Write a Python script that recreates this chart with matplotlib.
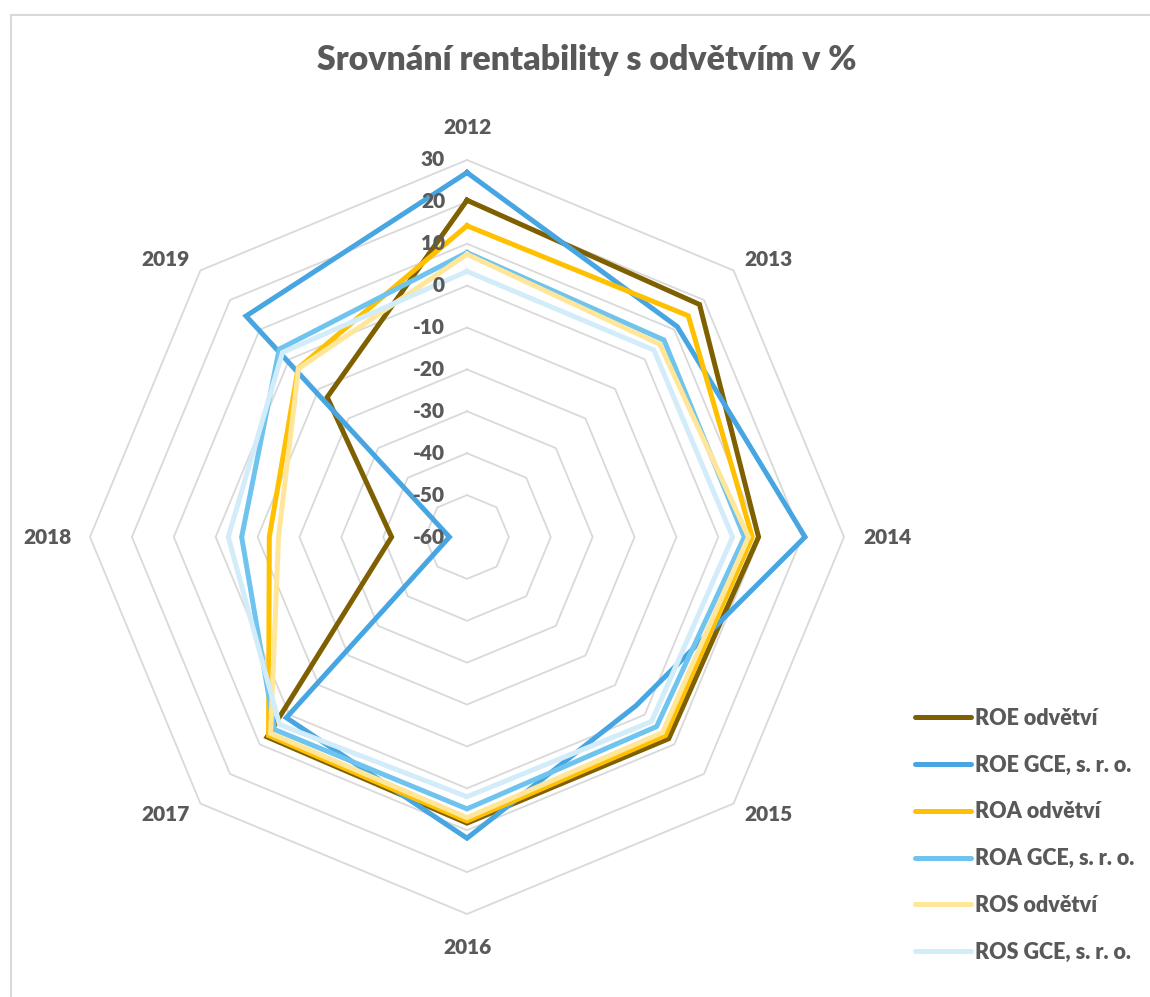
import numpy as np
import matplotlib
matplotlib.use("Agg")
import matplotlib.pyplot as plt
from matplotlib.lines import Line2D

categories = ["2012", "2013", "2014", "2015", "2016", "2017", "2018", "2019"]
roe_odvetvi = [20.4, 18.5, 9.6, 8.1, 8.3, 7.5, -42.0, -12.8]
roe_gce = [27.0, 11.0, 20.7, -3.0, 11.9, 1.0, -55.8, 14.6]
roa_odvetvi = [14.3, 14.7, 8.1, 7.0, 7.8, 7.0, -12.8, -3.0]
roa_gce = [7.9, 6.5, 6.2, 4.0, 4.9, 5.0, -6.2, 3.4]
ros_odvetvi = [7.5, 5.1, 7.2, 6.0, 7.0, 6.3, -15.0, -3.1]
ros_gce = [3.4, 3.1, 3.4, 2.3, 2.0, 3.3, -3.0, 2.3]
series_names = ["ROE odvětví", "ROE GCE, s. r. o.", "ROA odvětví",
                "ROA GCE, s. r. o.", "ROS odvětví", "ROS GCE, s. r. o."]
radial_ticks = [-60, -50, -40, -30, -20, -10, 0, 10, 20, 30]

colors = ["#7F6000", "#47A6E2", "#FFC000", "#6EC4EE", "#FFE699", "#D3ECFA"]
series = [roe_odvetvi, roe_gce, roa_odvetvi, roa_gce, ros_odvetvi, ros_gce]

plt.rcParams['font.family'] = ['Lato', 'DejaVu Sans']
W, H = 1150, 997
fig = plt.figure(figsize=(W / 100, H / 100), dpi=100)

cx, cy, R = 467, 537, 377
ax = fig.add_axes([(cx - R) / W, (H - cy - R) / H, 2 * R / W, 2 * R / H],
                  projection='polar')
ax.set_theta_zero_location('N')
ax.set_theta_direction(-1)
rmin, rmax = radial_ticks[0], radial_ticks[-1]
ax.set_ylim(rmin, rmax)
ax.axis('off')

n = len(categories)
theta = np.arange(n) * 2 * np.pi / n
theta_c = np.concatenate([theta, theta[:1]])

grid_color = "#D9D9D9"
for t in radial_ticks[1:]:
    ax.plot(theta_c, [t] * (n + 1), color=grid_color, lw=1.3, zorder=1,
            clip_on=False)

for vals, col, name in zip(series, colors, series_names):
    v = list(vals) + [vals[0]]
    ax.plot(theta_c, v, color=col, lw=3.6, zorder=3, solid_joinstyle='miter',
            clip_on=False, label=name)

text_col = "#595959"
weight = 'heavy'
# radial tick labels along the top spoke
px_per_unit = R / (rmax - rmin)
for t in radial_ticks:
    y = cy - (t - rmin) * px_per_unit
    fig.text((cx - 22) / W, 1 - y / H, str(t), ha='right', va='center',
             fontsize=15, fontweight=weight, color=text_col, zorder=6)

for i, cat in enumerate(categories):
    ang = theta[i]
    if i in (0, 4):
        dx, dy = 0, 410 * np.cos(ang)
    elif i in (2, 6):
        dx, dy = 420 * np.sin(ang), 0
    else:
        dx, dy = 301 * np.sign(np.sin(ang)), 277 * np.sign(np.cos(ang))
    x = cx + dx
    y = cy - dy
    fig.text(x / W, 1 - y / H, cat, ha='center', va='center', fontsize=15,
             fontweight=weight, color=text_col)

fig.text(587 / W, 1 - 60 / H, "Srovnání rentability s odvětvím v %",
         ha='center', va='center', fontsize=24.4, fontweight=weight,
         color=text_col)

# legend
handles = [Line2D([0], [0], color=c, lw=3.6, solid_capstyle='round')
           for c in colors]
leg = fig.legend(handles, series_names, loc='upper left',
                 bbox_to_anchor=(906 / W, 1 - 699 / H), frameon=False,
                 fontsize=15.5, handlelength=2.6, handletextpad=0.2,
                 labelspacing=1.2, borderaxespad=0)
for txt in leg.get_texts():
    txt.set_color(text_col)
    txt.set_fontweight(weight)

# chart area border (top and left edges)
fig.add_artist(Line2D([11 / W, 1], [1 - 15 / H, 1 - 15 / H], color=grid_color,
                      lw=1.5, transform=fig.transFigure))
fig.add_artist(Line2D([11 / W, 11 / W], [1 - 15 / H, 0], color=grid_color,
                      lw=1.5, transform=fig.transFigure))

fig.savefig("out.png", dpi=100)
